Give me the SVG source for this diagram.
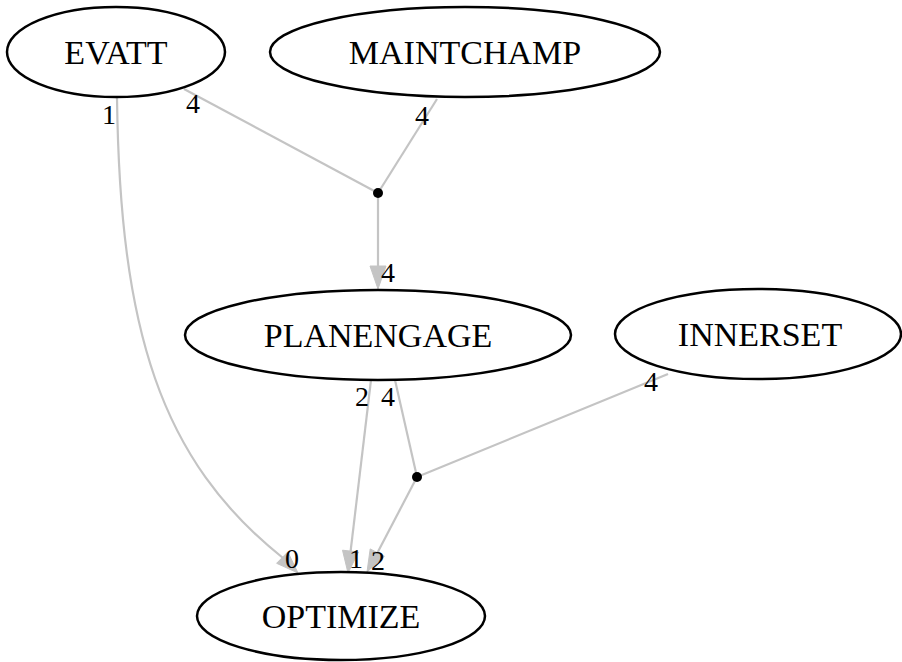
<svg xmlns="http://www.w3.org/2000/svg" width="902" height="662" viewBox="0 0 902 662">
<style>
.node ellipse{fill:#ffffff;stroke:#000000;stroke-width:2.5}
.node text{font-family:"Liberation Serif","Times New Roman",serif;font-size:34px;fill:#000000;text-anchor:middle}
.edge{fill:none;stroke:#c4c4c4;stroke-width:2.2}
.head{fill:#c4c4c4;stroke:#c4c4c4;stroke-width:1}
.lbl{font-family:"Liberation Serif","Times New Roman",serif;font-size:28px;fill:#000000;text-anchor:middle}
.dot{fill:#000000}
</style>
<rect width="902" height="662" fill="#ffffff"/>
<g id="connectors">
<path class="edge" d="M184,89 L378,193"/>
<path class="edge" d="M437,99 L378,193"/>
<path class="edge" d="M378,193 L378,267"/>
<polygon class="head" points="370,266 386,266 378,289"/>
<path class="edge" d="M117,98 C120,330 160,460 283,558"/>
<polygon class="head" points="276.6,563.3 287.8,551.9 298,573"/>
<path class="edge" d="M371,380 L350.5,552"/>
<polygon class="head" points="358.5,552 342.5,550.2 348,573"/>
<path class="edge" d="M395,380 L417,477"/>
<path class="edge" d="M668,374 L417,477"/>
<path class="edge" d="M417,477 L377.3,553"/>
<polygon class="head" points="384.4,556.4 370.2,548.9 367,572"/>
<circle class="dot" cx="378" cy="193" r="5"/>
<circle class="dot" cx="417" cy="477" r="5"/>
<text class="lbl" x="109" y="124">1</text>
<text class="lbl" x="193" y="113">4</text>
<text class="lbl" x="422" y="125">4</text>
<text class="lbl" x="388" y="282">4</text>
<text class="lbl" x="362" y="406">2</text>
<text class="lbl" x="388" y="406">4</text>
<text class="lbl" x="651" y="391">4</text>
<text class="lbl" x="292" y="568">0</text>
<text class="lbl" x="356" y="568">1</text>
<text class="lbl" x="378" y="570">2</text>
</g>
<g id="EVATT" class="node">
<ellipse cx="116" cy="52" rx="109" ry="45"/>
<text x="116" y="64">EVATT</text>
</g>
<g id="MAINTCHAMP" class="node">
<ellipse cx="465" cy="52" rx="195" ry="45"/>
<text x="465" y="64">MAINTCHAMP</text>
</g>
<g id="PLANENGAGE" class="node">
<ellipse cx="378" cy="335" rx="193" ry="45"/>
<text x="378" y="347">PLANENGAGE</text>
</g>
<g id="INNERSET" class="node">
<ellipse cx="758" cy="334" rx="143" ry="45"/>
<text x="760" y="346">INNERSET</text>
</g>
<g id="OPTIMIZE" class="node">
<ellipse cx="341" cy="616" rx="144" ry="44"/>
<text x="341" y="628">OPTIMIZE</text>
</g>
</svg>
